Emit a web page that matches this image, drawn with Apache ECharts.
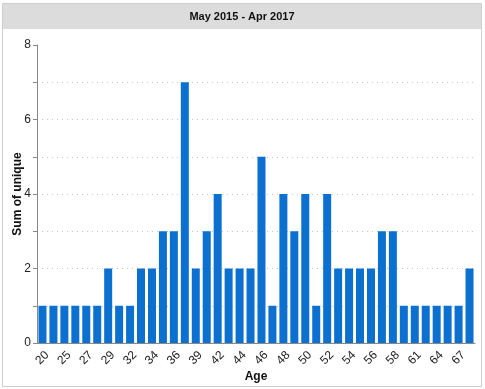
<!DOCTYPE html>
<html><head><meta charset="utf-8">
<script src="https://cdn.jsdelivr.net/npm/echarts@6/dist/echarts.min.js"></script>
<style>html,body{margin:0;padding:0;background:#fff}#c{width:485px;height:389px}</style>
</head><body><div id="c"></div>
<script>
var title = 'May 2015 - Apr 2017';
var ages = ['20','23','25','26','27','28','29','31','32','33','34','35','36','37','39','40','42','43','44','45','46','47','48','49','50','51','52','53','54','55','56','57','58','59','61','62','64','65','67','68'];
var values = [1,1,1,1,1,1,2,1,1,2,2,3,3,7,2,3,4,2,2,2,5,1,4,3,4,1,4,2,2,2,2,3,3,1,1,1,1,1,1,2];
var yTicks = [0,1,2,3,4,5,6,7,8];

var chart = echarts.init(document.getElementById('c'));
var font = 'Liberation Sans, Arial, sans-serif';
chart.setOption({
  animation: false,
  textStyle: {fontFamily: font},
  graphic: [
    {type:'rect', shape:{x:2.5,y:3.5,width:479,height:383}, style:{fill:'#fff', stroke:'#cfcfcf', lineWidth:1}, z:-10},
    {type:'rect', shape:{x:3,y:4,width:478,height:25}, style:{fill:'#dcdcdc'}, z:-9},
    {type:'text', x:242, y:17, style:{text:title, fill:'#111', font:'bold 11px ' + font, textAlign:'center', textVerticalAlign:'middle'}, z:5}
  ],
  grid: {left:37, right:10, top:45, bottom:46, containLabel:false, outerBoundsMode:'none'},
  xAxis: {
    type:'category', data: ages,
    name:'Age', nameLocation:'middle', nameGap:28, nameMoveOverlap:false,
    nameTextStyle:{fontWeight:'bold', fontSize:12, color:'#111'},
    axisLine:{lineStyle:{color:'#888'}},
    axisTick:{interval:1, alignWithLabel:true, length:4, lineStyle:{color:'#888'}},
    axisLabel:{interval:1, rotate:45, fontSize:12, color:'#222', margin:15, align:'center', verticalAlign:'middle'}
  },
  yAxis: {
    type:'value', min:yTicks[0], max:yTicks[yTicks.length-1], interval:1,
    name:'Sum of unique', nameLocation:'middle', nameGap:13, nameMoveOverlap:false,
    nameTextStyle:{fontWeight:'bold', fontSize:12, color:'#111'},
    axisLine:{show:true, lineStyle:{color:'#888'}},
    axisTick:{show:true, length:4, lineStyle:{color:'#888'}},
    axisLabel:{fontSize:12, color:'#222', margin:6, formatter:function(v){return v%2===0? String(v):'';}},
    splitLine:{show:true, showMaxLine:false, lineStyle:{color:'#c8c8c8', type:[1,4], width:1}}
  },
  series: [{
    type:'bar', data: values, barWidth:8,
    itemStyle:{color:'#0b70cf'}
  }]
});
</script></body></html>
